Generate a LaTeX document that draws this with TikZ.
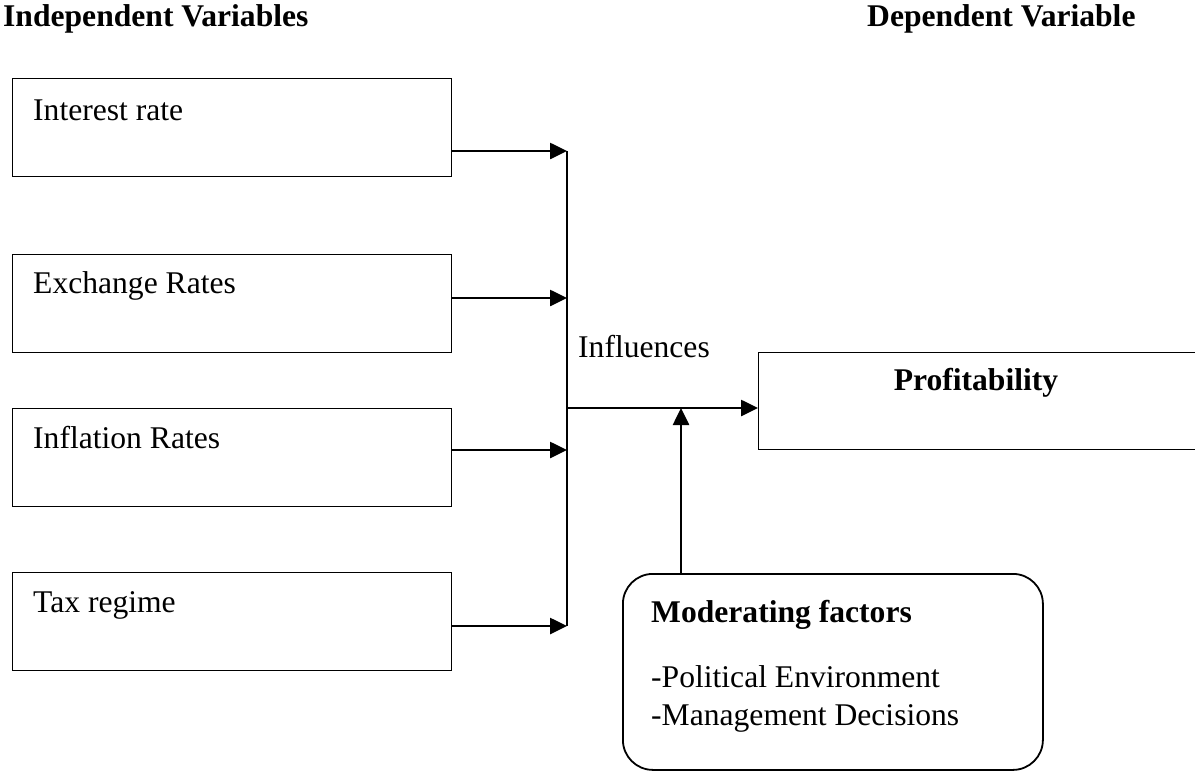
\documentclass[tikz,border=0pt]{standalone}
\usepackage{fontspec}
\setmainfont{Liberation Serif}
\usetikzlibrary{arrows.meta,positioning}
\begin{document}
\begin{tikzpicture}[x=1pt, y=-1pt,
    varbox/.style = {draw, line width=1.3pt, anchor=north west, minimum width=439pt, minimum height=98pt, inner sep=0pt},
    modbox/.style = {draw, line width=1.8pt, rounded corners=30pt, anchor=north west, minimum width=420pt, minimum height=196pt, inner sep=0pt},
    txt/.style = {anchor=base west, inner sep=0pt, font=\fontsize{31.6}{38}\selectfont},
    head/.style = {txt, font=\fontsize{31.6}{38}\selectfont\bfseries},
    flow/.style = {line width=2.6pt, -{Triangle[length=17pt,width=16pt]}}]
    \useasboundingbox (0,0) rectangle (1195,771);
    % headings
    \node[head] (indep) at (3,27) {Independent Variables};
    \node[head] (dep) at (867,26) {Dependent Variable};
    % independent variables
    \node[varbox] (ir) at (12,78) {};
    \node[varbox] (er) at (12,254) {};
    \node[varbox] (inf) at (12,408) {};
    \node[varbox] (tax) at (12,572) {};
    \node[txt] (irt) at ([shift={(21,42)}]ir.north west) {Interest rate};
    \node[txt] (ert) at ([shift={(21,39)}]er.north west) {Exchange Rates};
    \node[txt] (inft) at ([shift={(21,40)}]inf.north west) {Inflation Rates};
    \node[txt] (taxt) at ([shift={(21,40)}]tax.north west) {Tax regime};
    % dependent variable
    \node[draw, line width=1.3pt, anchor=north west, minimum width=441pt, minimum height=97pt, inner sep=0pt] (prof) at (758,352) {};
    \node[head, anchor=base] (proft) at (976,390) {Profitability};
    % moderator
    \node[modbox] (mod) at (622,573) {};
    \node[head] (modt) at ([shift={(29,49)}]mod.north west) {Moderating factors};
    \node[txt] (pol) at ([shift={(29,114)}]mod.north west) {-Political Environment};
    \node[txt] (mgt) at ([shift={(29,152)}]mod.north west) {-Management Decisions};
    % bus
    \coordinate (b1) at (567,151);
    \coordinate (b2) at (567,298);
    \coordinate (b3) at (567,450);
    \coordinate (b4) at (567,626);
    \coordinate (jn) at (567,408);
    \node[txt] (infl) at (578,357) {Influences};
    \draw[flow] (ir.east |- b1) -- (b1);
    \draw[flow] (er.east |- b2) -- (b2);
    \draw[flow] (inf.east |- b3) -- (b3);
    \draw[flow] (tax.east |- b4) -- (b4);
    \draw[line width=2.4pt] (b1) -- (b4);
    \draw[flow] (jn) -- (prof.west |- jn);
    \draw[flow] ([xshift=59pt]mod.north west) -- ([xshift=59pt]mod.north west |- jn);
\end{tikzpicture}
\end{document}
